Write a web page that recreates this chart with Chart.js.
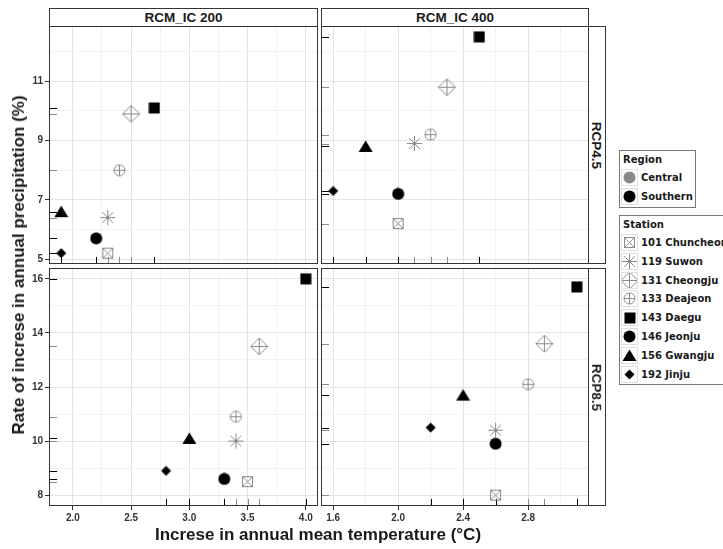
<!DOCTYPE html>
<html>
<head>
<meta charset="utf-8">
<script src="https://cdn.jsdelivr.net/npm/chart.js@4.4.1/dist/chart.umd.min.js"></script>
<style>
  html, body { margin: 0; padding: 0; background: #fff; }
  #wrap {
    position: relative; width: 723px; height: 549px; overflow: hidden;
    font-family: "Liberation Sans", Arial, sans-serif; font-weight: bold; color: #1a1a1a;
  }
  canvas.plot { position: absolute; left: 0; top: 0; }
  .strip {
    position: absolute; box-sizing: border-box; border: 1px solid #333; background: #fff;
    font-size: 13.5px; display: flex; align-items: center; justify-content: center;
  }
  .rot90 { transform: rotate(90deg); white-space: nowrap; }
  .title { position: absolute; font-size: 17px; white-space: nowrap; }
  .legend {
    position: absolute; box-sizing: border-box; border: 1px solid #777; background: #fff;
    font-family: "DejaVu Sans", sans-serif;
  }
  .legend .ltitle { position: absolute; left: 3px; font-size: 10px; }
  .legend .key { position: absolute; left: 1px; width: 17px; height: 17px; box-sizing: border-box; border: 1px solid #e0e0e0; }
  .legend .lab { position: absolute; left: 21px; font-size: 10px; white-space: nowrap; line-height: 17px; }
</style>
</head>
<body>
<div id="wrap">
  <canvas class="plot" id="c200r45" width="723" height="549"></canvas>
  <canvas class="plot" id="c400r45" width="723" height="549"></canvas>
  <canvas class="plot" id="c200r85" width="723" height="549"></canvas>
  <canvas class="plot" id="c400r85" width="723" height="549"></canvas>

  <div class="strip" style="left:49px; top:8px; width:269px; height:19px;">RCM_IC 200</div>
  <div class="strip" style="left:321px; top:8px; width:268px; height:19px;">RCM_IC 400</div>
  <div class="strip" style="left:588px; top:26px; width:18px; height:238px;"><span class="rot90">RCP4.5</span></div>
  <div class="strip" style="left:588px; top:268px; width:18px; height:238px;"><span class="rot90">RCP8.5</span></div>

  <div class="title" id="xtitle" style="left:318px; top:525px; transform:translateX(-50%);">Increse in annual mean temperature (°C)</div>
  <div class="title" id="ytitle" style="left:19px; top:265px; transform:translate(-50%,-50%) rotate(-90deg);">Rate of increse in annual precipitation (%)</div>

  <div id="legends"></div>
</div>

<script>
// stations, in legend order
var stations = ['101 Chuncheon', '119 Suwon', '131 Cheongju', '133 Deajeon',
                '143 Daegu', '146 Jeonju', '156 Gwangju', '192 Jinju'];
var regions = ['Central', 'Central', 'Central', 'Central',
               'Southern', 'Southern', 'Southern', 'Southern'];
var regionNames = ['Central', 'Southern'];

// increase in annual mean temperature (°C) / precipitation (%), one pair per panel
var tempIC200Rcp45 = [2.3, 2.3, 2.5, 2.4, 2.7, 2.2, 1.9, 1.9];
var precIC200Rcp45 = [5.2, 6.4, 9.9, 8.0, 10.1, 5.7, 6.6, 5.2];
var tempIC400Rcp45 = [2.0, 2.1, 2.3, 2.2, 2.5, 2.0, 1.8, 1.6];
var precIC400Rcp45 = [6.2, 8.9, 10.8, 9.2, 12.5, 7.2, 8.8, 7.3];
var tempIC200Rcp85 = [3.5, 3.4, 3.6, 3.4, 4.0, 3.3, 3.0, 2.8];
var precIC200Rcp85 = [8.5, 10.0, 13.5, 10.9, 16.0, 8.6, 10.1, 8.9];
var tempIC400Rcp85 = [2.6, 2.6, 2.9, 2.8, 3.1, 2.6, 2.4, 2.2];
var precIC400Rcp85 = [8.0, 10.4, 13.6, 12.1, 15.7, 9.9, 11.7, 10.5];

// tick labels (major) and minor grid positions
var xMajorIC200 = [2.0, 2.5, 3.0, 3.5, 4.0];
var xMinorIC200 = [2.25, 2.75, 3.25, 3.75];
var xMajorIC400 = [1.6, 2.0, 2.4, 2.8];
var xMinorIC400 = [1.8, 2.2, 2.6, 3.0];
var yMajorRcp45 = [5, 7, 9, 11];
var yMinorRcp45 = [6, 8, 10, 12];
var yMajorRcp85 = [8, 10, 12, 14, 16];
var yMinorRcp85 = [9, 11, 13, 15];

var FONT = '"Liberation Sans", Arial, sans-serif';
var GREY = '#8a8a8a';
var BLACK = '#000000';
var shapeKinds = ['boxX', 'asterisk', 'diamondPlus', 'circlePlus', 'square', 'circle', 'triangle', 'diamond'];

/**
 * ggplot-like 5% expansion of the range covered by two series.
 */
function expand(a, b) {
    var all = a.concat(b);
    var lo = Math.min.apply(null, all), hi = Math.max.apply(null, all);
    var pad = (hi - lo) * 0.05;
    return [lo - pad, hi + pad];
}

function regionColor(r) { return r === 'Central' ? GREY : BLACK; }

/**
 * Draw one point symbol on a small canvas, used as Chart.js pointStyle.
 */
function makeShape(kind, color) {
    var sizes = {boxX: 13, asterisk: 17, diamondPlus: 19, circlePlus: 13,
                 square: 12, circle: 13, triangle: 15, diamond: 11};
    var n = sizes[kind];
    var c = document.createElement('canvas');
    c.width = n; c.height = n;
    var g = c.getContext('2d');
    var m = n / 2;
    g.strokeStyle = color; g.fillStyle = color; g.lineWidth = 1;
    function line(x1, y1, x2, y2) { g.beginPath(); g.moveTo(x1, y1); g.lineTo(x2, y2); g.stroke(); }
    if (kind === 'boxX') {
        g.strokeRect(1.5, 1.5, n - 3, n - 3);
        line(1.5, 1.5, n - 1.5, n - 1.5);
        line(n - 1.5, 1.5, 1.5, n - 1.5);
    } else if (kind === 'asterisk') {
        var r = 7.5, d = r * 0.72;
        line(m - r, m, m + r, m);
        line(m, m - r, m, m + r);
        line(m - d, m - d, m + d, m + d);
        line(m + d, m - d, m - d, m + d);
    } else if (kind === 'diamondPlus') {
        g.beginPath();
        g.moveTo(m, 1); g.lineTo(n - 1, m); g.lineTo(m, n - 1); g.lineTo(1, m); g.closePath();
        g.stroke();
        line(1, m, n - 1, m);
        line(m, 1, m, n - 1);
    } else if (kind === 'circlePlus') {
        g.beginPath(); g.arc(m, m, 5.5, 0, Math.PI * 2); g.stroke();
        line(m - 5.5, m, m + 5.5, m);
        line(m, m - 5.5, m, m + 5.5);
    } else if (kind === 'square') {
        g.fillRect(0.5, 0.5, 11, 11);
    } else if (kind === 'circle') {
        g.beginPath(); g.arc(m, m, 6, 0, Math.PI * 2); g.fill();
    } else if (kind === 'triangle') {
        g.beginPath();
        g.moveTo(m, 1.5); g.lineTo(n - 0.5, 13); g.lineTo(0.5, 13); g.closePath();
        g.fill();
    } else if (kind === 'diamond') {
        g.beginPath();
        g.moveTo(m, 0.5); g.lineTo(n - 0.5, m); g.lineTo(m, n - 0.5); g.lineTo(0.5, m); g.closePath();
        g.fill();
    }
    return c;
}

var stationShapes = stations.map(function(s, i) {
    return makeShape(shapeKinds[i], regionColor(regions[i]));
});

// panel border and rug marks, positioned through the chart scales
var panelDecor = {
    id: 'panelDecor',
    beforeDatasetsDraw: function(chart) {
        var a = chart.chartArea, ctx = chart.ctx;
        var xs = chart.scales.x, ys = chart.scales.y;
        var rugX = (a.bottom - a.top) * 0.03, rugY = (a.right - a.left) * 0.03;
        ctx.save();
        ctx.lineWidth = 1;
        chart.data.datasets.forEach(function(ds) {
            ctx.strokeStyle = ds.rugColor;
            ds.data.forEach(function(p) {
                var px = Math.round(xs.getPixelForValue(p.x)) + 0.5;
                var py = Math.round(ys.getPixelForValue(p.y)) + 0.5;
                ctx.beginPath();
                ctx.moveTo(px, a.bottom); ctx.lineTo(px, a.bottom - rugX);
                ctx.moveTo(a.left, py); ctx.lineTo(a.left + rugY, py);
                ctx.stroke();
            });
        });
        ctx.restore();
    },
    afterDraw: function(chart) {
        var a = chart.chartArea, ctx = chart.ctx;
        ctx.save();
        ctx.strokeStyle = '#333';
        ctx.lineWidth = 1;
        ctx.strokeRect(a.left + 0.5, a.top + 0.5, a.right - a.left - 1, a.bottom - a.top - 1);
        ctx.restore();
    }
};

function axis(major, minor, range, show, isX, digits) {
    var all = major.concat(minor).sort(function(p, q) { return p - q; });
    function isMajor(v) { return major.indexOf(v) !== -1; }
    return {
        type: 'linear',
        position: isX ? 'bottom' : 'left',
        min: range[0],
        max: range[1],
        afterBuildTicks: function(scale) {
            scale.ticks = all.map(function(v) { return {value: v}; });
        },
        afterFit: function(scale) {
            if (isX) { scale.height = show ? 20 : 0; } else { scale.width = show ? 49 : 0; }
        },
        border: {display: false},
        grid: {
            color: function(c) { return c.tick && isMajor(c.tick.value) ? '#e4e4e4' : '#f2f2f2'; },
            lineWidth: 1,
            drawTicks: show,
            tickLength: 4,
            tickColor: function(c) { return c.tick && isMajor(c.tick.value) ? '#333' : 'rgba(0,0,0,0)'; }
        },
        ticks: {
            display: show,
            autoSkip: false,
            maxRotation: 0,
            padding: 2,
            color: '#333',
            font: {family: FONT, size: 10, weight: 'bold'},
            callback: function(v) { return isMajor(v) ? v.toFixed(digits) : ''; }
        }
    };
}

function makePanel(id, temp, prec, xAx, yAx, area) {
    var datasets = stations.map(function(s, i) {
        return {
            label: s,
            data: [{x: temp[i], y: prec[i]}],
            pointStyle: stationShapes[i],
            rugColor: regionColor(regions[i]),
            pointRadius: 6,
            pointHoverRadius: 6
        };
    });
    var xH = xAx.ticks.display ? 20 : 0;
    var yW = yAx.ticks.display ? 49 : 0;
    return new Chart(document.getElementById(id), {
        type: 'scatter',
        data: {datasets: datasets},
        options: {
            responsive: false,
            animation: false,
            devicePixelRatio: 1,
            layout: {
                padding: {left: area[0] - yW, top: area[1], right: 723 - area[2], bottom: 549 - area[3] - xH}
            },
            plugins: {legend: {display: false}, tooltip: {enabled: false}},
            scales: {x: xAx, y: yAx}
        },
        plugins: [panelDecor]
    });
}

var xRangeIC200 = expand(tempIC200Rcp45, tempIC200Rcp85);
var xRangeIC400 = expand(tempIC400Rcp45, tempIC400Rcp85);
var yRangeRcp45 = expand(precIC200Rcp45, precIC400Rcp45);
var yRangeRcp85 = expand(precIC200Rcp85, precIC400Rcp85);

makePanel('c200r45', tempIC200Rcp45, precIC200Rcp45,
    axis(xMajorIC200, xMinorIC200, xRangeIC200, false, true, 1),
    axis(yMajorRcp45, yMinorRcp45, yRangeRcp45, true, false, 0), [49, 26, 318, 264]);
makePanel('c400r45', tempIC400Rcp45, precIC400Rcp45,
    axis(xMajorIC400, xMinorIC400, xRangeIC400, false, true, 1),
    axis(yMajorRcp45, yMinorRcp45, yRangeRcp45, false, false, 0), [321, 26, 589, 264]);
makePanel('c200r85', tempIC200Rcp85, precIC200Rcp85,
    axis(xMajorIC200, xMinorIC200, xRangeIC200, true, true, 1),
    axis(yMajorRcp85, yMinorRcp85, yRangeRcp85, true, false, 0), [49, 268, 318, 506]);
makePanel('c400r85', tempIC400Rcp85, precIC400Rcp85,
    axis(xMajorIC400, xMinorIC400, xRangeIC400, true, true, 1),
    axis(yMajorRcp85, yMinorRcp85, yRangeRcp85, false, false, 0), [321, 268, 589, 506]);

// legends (keys reuse the plot symbols)
function keyCanvas(img) {
    var c = document.createElement('canvas');
    c.width = 15; c.height = 15;
    c.getContext('2d').drawImage(img, Math.round((15 - img.width) / 2), Math.round((15 - img.height) / 2));
    c.style.display = 'block';
    return c;
}

function buildLegend(title, labels, icons, left, top, width, height) {
    var box = document.createElement('div');
    box.className = 'legend';
    box.style.left = left + 'px'; box.style.top = top + 'px';
    box.style.width = width + 'px'; box.style.height = height + 'px';
    var t = document.createElement('div');
    t.className = 'ltitle'; t.style.top = '3px'; t.textContent = title;
    box.appendChild(t);
    labels.forEach(function(lab, i) {
        var rowTop = 18 + i * 18.8;
        var k = document.createElement('div');
        k.className = 'key'; k.style.top = rowTop + 'px';
        k.appendChild(keyCanvas(icons[i]));
        box.appendChild(k);
        var s = document.createElement('div');
        s.className = 'lab'; s.style.top = rowTop + 'px'; s.textContent = lab;
        box.appendChild(s);
    });
    document.getElementById('legends').appendChild(box);
}

buildLegend('Region', regionNames,
    regionNames.map(function(r) { return makeShape('circle', regionColor(r)); }), 619, 150, 77, 58);
buildLegend('Station', stations, stationShapes, 619, 215, 120, 170);
</script>
</body>
</html>
